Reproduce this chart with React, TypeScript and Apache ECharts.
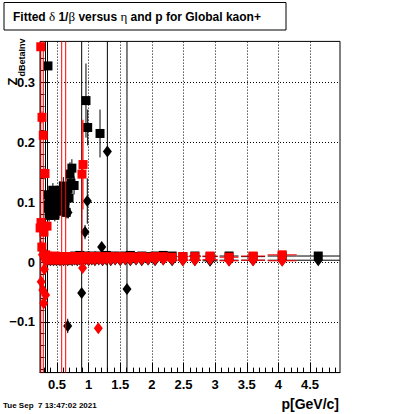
import React, { useEffect, useRef } from "react";
import * as echarts from "echarts";

// ---------- axes ----------
const xMin = 0.231;
const xMax = 4.974;
const yMin = -0.185;
const yMax = 0.369;
const xMajorTicks = [0.5, 1, 1.5, 2, 2.5, 3, 3.5, 4, 4.5];
const xMinorTicks = [0.3, 0.4, 0.6, 0.7, 0.8, 0.9, 1.1, 1.2, 1.3, 1.4, 1.6, 1.7, 1.8, 1.9, 2.1, 2.2, 2.3, 2.4, 2.6, 2.7, 2.8, 2.9, 3.1, 3.2, 3.3, 3.4, 3.6, 3.7, 3.8, 3.9, 4.1, 4.2, 4.3, 4.4, 4.6, 4.7, 4.8, 4.9];
const yMajorTicks = [-0.1, 0, 0.1, 0.2, 0.3];
const yMinorTicks = [-0.18, -0.16, -0.14, -0.12, -0.08, -0.06, -0.04, -0.02, 0.02, 0.04, 0.06, 0.08, 0.12, 0.14, 0.16, 0.18, 0.22, 0.24, 0.26, 0.28, 0.32, 0.34, 0.36];

// ---------- p bins of the band near zero ----------
const pBins = [0.32, 0.345, 0.37, 0.395, 0.42, 0.445, 0.47, 0.495, 0.52, 0.547, 0.574, 0.605, 0.637, 0.67, 0.705, 0.74, 0.78, 0.82, 0.86, 0.90, 0.95, 1.00, 1.05, 1.10, 1.16, 1.22, 1.28, 1.35, 1.42, 1.50, 1.58, 1.66, 1.75, 1.84, 1.94, 2.05, 2.18, 2.32, 2.49, 2.68, 2.92, 3.22, 3.60, 4.06, 4.63];
const pHalf = [0.0125, 0.0125, 0.0125, 0.0125, 0.0125, 0.0125, 0.0125, 0.0125, 0.0125, 0.014, 0.015, 0.016, 0.016, 0.017, 0.018, 0.018, 0.02, 0.02, 0.02, 0.02, 0.025, 0.025, 0.025, 0.025, 0.03, 0.03, 0.03, 0.035, 0.035, 0.04, 0.04, 0.04, 0.045, 0.045, 0.05, 0.055, 0.065, 0.07, 0.085, 0.095, 0.12, 0.15, 0.19, 0.23, 0.34];
const bandErr = [0.002, 0.002, 0.002, 0.002, 0.002, 0.002, 0.002, 0.002, 0.002, 0.002, 0.002, 0.002, 0.002, 0.002, 0.002, 0.002, 0.002, 0.002, 0.002, 0.002, 0.002, 0.002, 0.002, 0.002, 0.002, 0.002, 0.002, 0.002, 0.002, 0.002, 0.002, 0.002, 0.002, 0.002, 0.002, 0.002, 0.002, 0.002, 0.002, 0.002, 0.002, 0.002, 0.002, 0.002, 0.002];

const redSqBandY = [0.012, 0.010, 0.009, 0.008, 0.009, 0.008, 0.010, 0.009, 0.008, 0.009, 0.007, 0.009, 0.008, 0.009, 0.008, 0.009, 0.008, 0.009, 0.009, 0.008, 0.009, 0.008, 0.009, 0.009, 0.008, 0.009, 0.008, 0.009, 0.008, 0.009, 0.008, 0.009, 0.008, 0.009, 0.008, 0.009, 0.009, 0.008, 0.009, 0.009, 0.010, 0.008, 0.010, 0.012, null];
const redSqBandErr = [0.002, 0.002, 0.002, 0.002, 0.002, 0.002, 0.002, 0.002, 0.002, 0.002, 1.0, 0.002, 1.0, 0.002, 0.002, 0.002, 0.002, 0.002, 0.002, 0.002, 0.002, 0.002, 0.002, 0.002, 0.002, 0.002, 0.002, 0.002, 0.002, 0.002, 0.002, 0.002, 0.002, 0.002, 0.002, 0.002, 0.002, 0.002, 0.002, 0.002, 0.002, 0.002, 0.002, 0.002, 0.002];
const redDiBandY = [0.002, 0.004, 0.005, 0.004, 0.005, 0.004, 0.005, 0.004, 0.005, 0.004, 0.005, 0.004, 0.005, 0.004, 0.005, 0.004, 0.005, 0.004, 0.005, 0.004, 0.005, 0.004, 0.005, 0.004, 0.005, 0.004, 0.005, 0.004, 0.005, 0.004, 0.005, 0.004, 0.005, 0.004, 0.005, 0.004, 0.004, 0.004, 0.003, 0.003, 0.004, 0.002, 0.003, 0.002, null];
const blackSqBandY = [null, null, null, null, null, null, null, null, null, null, null, null, null, null, null, null, 0.010, 0.009, 0.011, 0.009, 0.010, 0.009, 0.010, 0.009, 0.010, 0.009, 0.011, 0.009, 0.010, 0.009, 0.010, 0.011, 0.009, 0.010, 0.009, 0.010, 0.011, 0.010, 0.009, 0.010, 0.009, 0.010, 0.009, 0.010, 0.010];
const blackDiBandY = [0.004, 0.003, 0.004, 0.003, 0.004, 0.003, 0.004, 0.003, 0.004, 0.003, 0.004, 0.003, 0.004, 0.003, 0.004, 0.003, 0.004, 0.003, 0.004, 0.003, 0.004, 0.003, 0.004, 0.003, 0.004, 0.003, 0.004, 0.003, 0.004, 0.003, 0.004, 0.003, 0.004, 0.003, 0.004, 0.003, 0.004, 0.003, 0.003, 0.003, 0.002, 0.003, 0.003, 0.003, 0.003];

// ---------- scattered points: [p, value, pErr, errDown, errUp] ----------
type Pt = [number, number, number, number, number];
const blackSqOut: Pt[] = [
  [0.357, 0.328, 0.012, 0.006, 0.006],
  [0.958, 0.270, 0.025, 0.062, 0.062],
  [0.985, 0.225, 0.025, 0.03, 0.03],
  [1.18, 0.215, 0.03, 0.04, 0.04],
  [0.355, 0.112, 0.012, 0.015, 0.015],
  [0.365, 0.09, 0.012, 0.012, 0.012],
  [0.375, 0.078, 0.012, 0.01, 0.01],
  [0.39, 0.095, 0.012, 0.012, 0.012],
  [0.405, 0.113, 0.012, 0.012, 0.012],
  [0.42, 0.083, 0.012, 0.01, 0.01],
  [0.435, 0.12, 0.012, 0.012, 0.012],
  [0.45, 0.103, 0.012, 0.012, 0.012],
  [0.465, 0.078, 0.012, 0.01, 0.01],
  [0.485, 0.09, 0.012, 0.012, 0.012],
  [0.5, 0.115, 0.012, 0.012, 0.012],
  [0.515, 0.1, 0.012, 0.012, 0.012],
  [0.53, 0.085, 0.012, 0.012, 0.012],
  [0.545, 0.12, 0.014, 0.015, 0.015],
  [0.56, 0.098, 0.014, 0.012, 0.012],
  [0.58, 0.11, 0.015, 0.015, 0.015],
  [0.6, 0.127, 0.016, 0.015, 0.015],
  [0.625, 0.098, 0.016, 0.012, 0.012],
  [0.645, 0.083, 0.016, 0.01, 0.01],
  [0.66, 0.113, 0.016, 0.012, 0.012],
  [0.675, 0.123, 0.017, 0.015, 0.015],
  [0.69, 0.107, 0.017, 0.012, 0.012],
  [0.705, 0.147, 0.018, 0.02, 0.02],
  [0.72, 0.132, 0.018, 0.015, 0.015],
  [0.735, 0.157, 0.018, 0.015, 0.015],
  [0.77, 0.128, 0.02, 0.015, 0.015],
];
const blackDiOut: Pt[] = [
  [0.35, 0.10, 0.012, 1, 1],
  [0.318, 0.012, 0.012, 1, 1],
  [0.89, -0.052, 0.02, 1, 1],
  [1.296, 0.185, 0.03, 1, 1],
  [1.606, -0.045, 0.03, 1, 1],
  [0.979, 0.102, 0.025, 0.038, 0.038],
  [0.943, 0.05, 0.025, 0.012, 0.012],
  [0.669, -0.107, 0.017, 0.012, 0.012],
  [1.206, 0.025, 0.03, 0.008, 0.008],
  [0.674, 0.083, 0.017, 0.01, 0.01],
  [0.33, 0.011, 0.012, 0.003, 0.003],
];
const redSqOut: Pt[] = [
  [0.243, 0.36, 0.012, 1, 1],
  [0.263, 0.242, 0.012, 0.01, 0.01],
  [0.283, 0.212, 0.012, 1, 1],
  [0.31, 0.148, 0.012, 0.01, 0.01],
  [0.247, 0.066, 0.012, 0.008, 0.008],
  [0.233, 0.057, 0.012, 0.008, 0.008],
  [0.294, 0.05, 0.012, 0.008, 0.008],
  [0.342, 0.06, 0.012, 0.008, 0.008],
  [0.26, 0.025, 0.012, 0.01, 0.01],
  [0.911, 0.163, 0.025, 0.075, 0.075],
  [0.895, 0.147, 0.025, 0.16, 0.09],
];
const redDiOut: Pt[] = [
  [0.905, -0.01, 0.025, 0.005, 0.005],
  [1.153, -0.111, 0.03, 0.005, 0.005],
  [0.25, -0.033, 0.012, 0.008, 0.008],
  [0.275, -0.047, 0.012, 0.008, 0.008],
  [0.32, -0.055, 0.012, 0.008, 0.008],
  [0.29, -0.069, 0.012, 0.008, 0.008],
  [0.27, 0.012, 0.012, 0.005, 0.005],
  [0.3, -0.012, 0.012, 0.005, 0.005],
];

const band = (ys: (number | null)[], errs: number[]): Pt[] =>
  pBins
    .map((p, i) => (ys[i] == null ? null : ([p, ys[i] as number, pHalf[i], errs[i], errs[i]] as Pt)))
    .filter((d): d is Pt => d !== null);

const blackSq = [...band(blackSqBandY, bandErr), ...blackSqOut];
const blackDi = [...band(blackDiBandY, bandErr), ...blackDiOut];
const redSq = [...band(redSqBandY, redSqBandErr), ...redSqOut];
const redDi = [...band(redDiBandY, bandErr), ...redDiOut];

const FONT = "Liberation Sans, Arial, Helvetica, sans-serif";

function errRender(color: string) {
  return (params: any, api: any) => {
    const x = api.value(0), y = api.value(1), ex = api.value(2), lo = api.value(3), hi = api.value(4);
    const cs = params.coordSys;
    const cy = (v: number) => Math.max(cs.y, Math.min(cs.y + cs.height, v));
    const cx = (v: number) => Math.max(cs.x, Math.min(cs.x + cs.width, v));
    const a = api.coord([x, y - lo]);
    const b = api.coord([x, y + hi]);
    const c = api.coord([x - ex, y]);
    const d = api.coord([x + ex, y]);
    return {
      type: "group",
      children: [
        { type: "line", shape: { x1: a[0], y1: cy(a[1]), x2: b[0], y2: cy(b[1]) }, style: { stroke: color, lineWidth: 1 } },
        { type: "line", shape: { x1: cx(c[0]), y1: c[1], x2: cx(d[0]), y2: d[1] }, style: { stroke: color, lineWidth: 1 } },
      ],
    };
  };
}

export default function App() {
  const ref = useRef<HTMLDivElement>(null);
  useEffect(() => {
    if (!ref.current) return;
    const chart = echarts.init(ref.current, undefined, { renderer: "svg" });
    const labelStyle = { color: "#000", fontFamily: FONT, fontWeight: "bold" as const, fontSize: 13 };
    const option: any = {
      animation: false,
      backgroundColor: "#fff",
      grid: { left: 40, top: 41.4, width: 300, height: 331.2, show: true, borderColor: "#000", borderWidth: 1, backgroundColor: "transparent" },
      xAxis: [
        {
          type: "value", min: xMin, max: xMax, position: "bottom",
          axisLine: { show: true, onZero: false, lineStyle: { color: "#000", width: 1 } },
          axisTick: { show: true, inside: true, length: 10, customValues: xMajorTicks, lineStyle: { color: "#000" } },
          axisLabel: { show: true, customValues: xMajorTicks, margin: 5, ...labelStyle, formatter: (v: number) => String(v) },
          splitLine: { show: false },
        },
        {
          type: "value", min: xMin, max: xMax, position: "bottom",
          axisLine: { show: false, onZero: false },
          axisTick: { show: true, inside: true, length: 5, customValues: xMinorTicks, lineStyle: { color: "#000" } },
          axisLabel: { show: false },
          splitLine: { show: false },
        },
      ],
      yAxis: [
        {
          type: "value", min: yMin, max: yMax, position: "left",
          axisLine: { show: true, onZero: false, lineStyle: { color: "#000", width: 1 } },
          axisTick: { show: true, inside: true, length: 9, customValues: yMajorTicks, lineStyle: { color: "#000" } },
          axisLabel: {
            show: true, customValues: yMajorTicks, margin: 5, ...labelStyle,
            formatter: (v: number) => (v < 0 ? "\u2212" + String(Math.abs(v)) : String(v)),
          },
          splitLine: { show: false },
        },
        {
          type: "value", min: yMin, max: yMax, position: "left",
          axisLine: { show: false, onZero: false },
          axisTick: { show: true, inside: true, length: 4.5, customValues: yMinorTicks, lineStyle: { color: "#000" } },
          axisLabel: { show: false },
          splitLine: { show: false },
        },
      ],
      series: [
        {
          type: "line", data: [], z: 1, silent: true,
          markLine: {
            silent: true, symbol: "none", label: { show: false }, animation: false,
            lineStyle: { color: "#000", type: [1, 2], width: 1 },
            emphasis: { disabled: true },
            data: [...xMajorTicks.map((v) => ({ xAxis: v })), ...yMajorTicks.map((v) => ({ yAxis: v }))],
          },
        },
        { type: "custom", z: 2, silent: true, renderItem: errRender("#000"), data: [...blackSq, ...blackDi], encode: { x: 0, y: 1 } },
        { type: "scatter", z: 3, silent: true, clip: false, symbol: "diamond", symbolSize: [9, 12], itemStyle: { color: "#000", opacity: 1 }, data: blackDi.map((d) => [d[0], d[1]]) },
        { type: "scatter", z: 4, silent: true, clip: false, symbol: "rect", symbolSize: 9, itemStyle: { color: "#000", opacity: 1 }, data: blackSq.map((d) => [d[0], d[1]]) },
        { type: "custom", z: 5, silent: true, renderItem: errRender("#ff0000"), data: [...redSq, ...redDi], encode: { x: 0, y: 1 } },
        { type: "scatter", z: 6, silent: true, clip: false, symbol: "diamond", symbolSize: [9, 12], itemStyle: { color: "#ff0000", opacity: 1 }, data: redDi.map((d) => [d[0], d[1]]) },
        { type: "scatter", z: 7, silent: true, clip: false, symbol: "rect", symbolSize: 9, itemStyle: { color: "#ff0000", opacity: 1 }, data: redSq.map((d) => [d[0], d[1]]) },
      ],
      graphic: [
        { type: "rect", shape: { x: 4, y: 2.5, width: 282, height: 27.5 }, style: { fill: "#fff", stroke: "#000", lineWidth: 1 }, z: 10 },
        {
          type: "text", x: 13, y: 16.5, z: 11,
          style: {
            text: "{b|Fitted }{g|\u03b4}{b| 1/}{g|\u03b2}{b| versus }{g|\u03b7}{b| and p for Global kaon+}",
            verticalAlign: "middle",
            rich: {
              b: { fontFamily: FONT, fontWeight: "bold", fontSize: 12, fill: "#000" },
              g: { fontFamily: "Liberation Serif, DejaVu Serif, serif", fontSize: 13, fill: "#000" },
            },
          },
        },
        { type: "text", x: 12.5, y: 85.5, rotation: Math.PI / 2, z: 11, style: { text: "Z", align: "left", verticalAlign: "middle", fontFamily: FONT, fontWeight: "bold", fontSize: 13, fill: "#000" } },
        { type: "text", x: 21.5, y: 76.5, rotation: Math.PI / 2, z: 11, style: { text: "dBetaInv", align: "left", verticalAlign: "middle", fontFamily: FONT, fontWeight: "bold", fontSize: 9, fill: "#000" } },
        { type: "text", x: 339, y: 404, z: 11, style: { text: "p[GeV/c]", align: "right", verticalAlign: "middle", fontFamily: FONT, fontWeight: "bold", fontSize: 14, fill: "#000" } },
        { type: "text", x: 3, y: 405, z: 11, style: { text: "Tue Sep  7 13:47:02 2021", align: "left", verticalAlign: "middle", fontFamily: FONT, fontWeight: "bold", fontSize: 8, fill: "#000" } },
      ],
    };
    chart.setOption(option);
    return () => chart.dispose();
  }, []);
  return <div ref={ref} style={{ position: "absolute", left: 0, top: 0, width: 400, height: 414 }} />;
}
